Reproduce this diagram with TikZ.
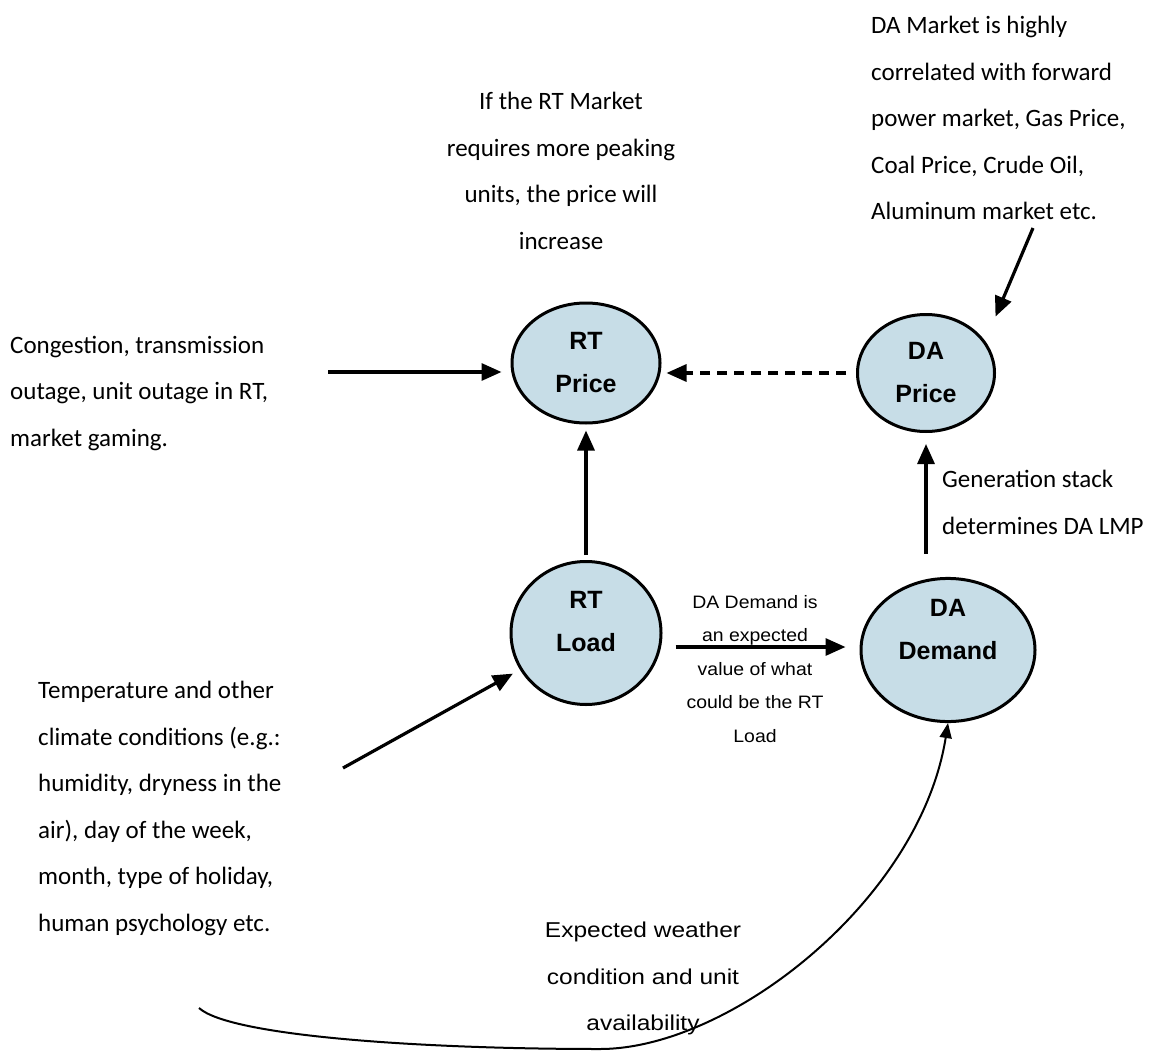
\documentclass[tikz,border=0pt]{standalone}
\usepackage{fontspec}
\setmainfont{Carlito}
\newfontfamily\arialfont{Liberation Sans}
\newfontfamily\widearial[FakeStretch=1.08]{Liberation Sans}
\newfontfamily\widerarial[FakeStretch=1.14]{Liberation Sans}
\usepackage{tikz}
\usetikzlibrary{calc,positioning,arrows.meta,shapes.geometric}
\definecolor{bubblefill}{RGB}{199,221,231}
\tikzset{
  line/.style={-{Triangle[length=20pt,width=17pt]}, line width=3.2pt},
  curveline/.style={-{Triangle[length=15pt,width=12pt]}, line width=2pt},
  bubble/.style={ellipse, draw, line width=3pt, fill=bubblefill, inner sep=0pt, align=center,
    font=\arialfont\bfseries\fontsize{25}{43}\selectfont},
  note/.style={inner sep=0pt, font=\fontsize{25}{46.5}\selectfont},
  smallnote/.style={inner sep=0pt, align=center, font=\widearial\fontsize{18}{33.5}\selectfont}
}

\begin{document}
\begin{tikzpicture}[x=1pt,y=-1pt]
  \useasboundingbox (0,0) rectangle (1151,1051);
  \node[bubble, minimum width=148pt, minimum height=120pt] (rtprice) at (586,363) {RT\\Price};
  \node[bubble, minimum width=137pt, minimum height=117pt] (daprice) at (926,373) {DA\\Price};
  \node[bubble, minimum width=150pt, minimum height=143pt] (rtload) at (586,633) {RT\\Load\rule[-24pt]{0pt}{0pt}};
  \node[bubble, minimum width=174pt, minimum height=140pt] (dademand) at (948,650) {DA\\Demand\rule[-41pt]{0pt}{0pt}};

  \node[note, anchor=north, align=center] (peaktxt) at (561,92) {If the RT Market\\requires more peaking\\units, the price will\\increase};
  \node[note, anchor=north west, align=left] (datxt) at (871,16) {DA Market is highly\\correlated with forward\\power market, Gas Price,\\Coal Price, Crude Oil,\\Aluminum market etc.};
  \node[note, anchor=north west, align=left] (congtxt) at (10,336) {Congestion, transmission\\outage, unit outage in RT,\\market gaming.};
  \node[note, anchor=north west, align=left] (gentxt) at (942,470) {Generation stack\\determines DA LMP};
  \node[note, anchor=north west, align=left] (temptxt) at (38,681) {Temperature and other\\climate conditions (e.g.:\\humidity, dryness in the\\air), day of the week,\\month, type of holiday,\\human psychology etc.};
  \node[smallnote, anchor=north] (ddtxt) at (755,595) {DA Demand is\\an expected\\value of what\\could be the RT\\Load};
  \node[smallnote, font=\widerarial\fontsize{21.5}{46.5}\selectfont, anchor=north] (exptxt) at (643,922) {Expected weather\\condition and unit\\availability};

  \coordinate (congfrom) at (328,372);
  \coordinate (tempfrom) at (343,768);
  \coordinate (mktfrom) at (1033,228);
  \coordinate (wxfrom) at (199,1008);

  \draw[line, shorten >=9pt] (congfrom) -- (congfrom -| rtprice.west);
  \draw[line, dash pattern=on 10pt off 7pt, shorten <=10pt, shorten >=5pt] (daprice.west) -- (daprice.west -| rtprice.east);
  \draw[line, shorten <=5pt, shorten >=6pt] (rtload.north) -- (rtprice.south);
  \draw[line, shorten <=23pt, shorten >=11pt] (daprice.south |- dademand.north) -- (daprice.south);
  \draw[line, shorten <=13pt, shorten >=14pt] ([yshift=-14pt]rtload.east) -- ([yshift=3pt]dademand.west);
  \draw[line, shorten >=8pt] (tempfrom) -- (rtload);
  \draw[line] (mktfrom) -- ($(daprice.north east)+(20,-14)$);
  \draw[curveline] (wxfrom) .. controls (230,1036) and (420,1049) .. (600,1049)
    .. controls (730,1049) and (920,900) .. (dademand.south);
\end{tikzpicture}
\end{document}
